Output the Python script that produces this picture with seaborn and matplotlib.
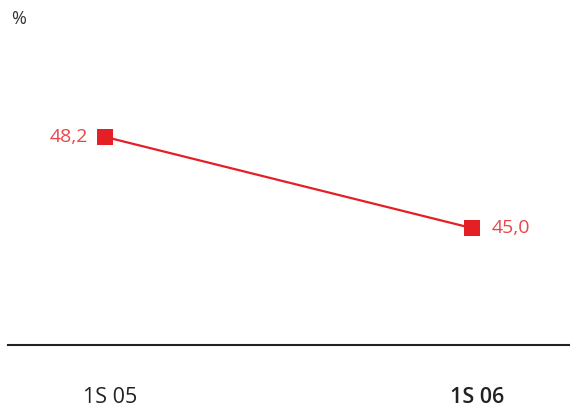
import seaborn as sns
import pandas as pd
from matplotlib import pyplot as plt

periods = ["1S 05", "1S 06"]
values = [48.2, 45.0]
value_labels = ["48,2", "45,0"]

sns.set_style("white")
plt.rcParams['font.family'] = ['Open Sans', 'DejaVu Sans']

df = pd.DataFrame({"period": periods, "value": values})
df["x"] = range(len(df))

fig = plt.figure(figsize=(5.7, 4.09), dpi=100)
ax = fig.add_axes([8 / 570, 1 - 345 / 409, 562 / 570, 345 / 409])

sns.lineplot(data=df, x="x", y="value", ax=ax, color="#e41f26",
             linewidth=1.6, marker="s", markersize=11.5,
             markeredgewidth=0, markerfacecolor="#e41f26")

# value labels
ax.annotate(value_labels[0], (df["x"][0], df["value"][0]), xytext=(-12, 0),
            textcoords="offset points", ha="right", va="center",
            fontsize=14, color="#e8464a")
ax.annotate(value_labels[1], (df["x"][1], df["value"][1]), xytext=(14, 0),
            textcoords="offset points", ha="left", va="center",
            fontsize=14, color="#e8464a")

ax.set_xlim(-0.264, 1.267)
ax.set_ylim(40.9, 53.0)
# labels sit a touch right of the points
ax.set_xticks(df["x"] + 0.015)
ax.set_xticklabels(periods, fontsize=15.5, color="#222222")
ax.get_xticklabels()[1].set_fontweight("semibold")
ax.tick_params(axis="x", length=0, pad=30.5)
ax.set_yticks([])
ax.set_xlabel("")
ax.set_ylabel("")

sns.despine(ax=ax, left=True, top=True, right=True)
ax.spines["bottom"].set_color("#222222")
ax.spines["bottom"].set_linewidth(1.5)

fig.text(11 / 570, 1 - 19 / 409, "%", fontsize=13, color="#333333",
         ha="left", va="center")

fig.savefig("out.png", dpi=100)
